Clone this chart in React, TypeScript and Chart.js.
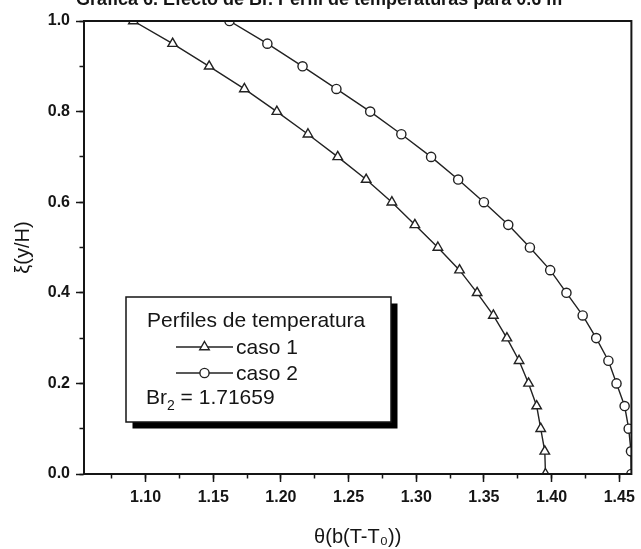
import React, { useEffect, useRef } from 'react';
import { Chart, registerables } from 'chart.js';
import * as helpers from 'chart.js/helpers';

Chart.register(...registerables);

// ---- data ----
const xiValues = [1.0, 0.95, 0.9, 0.85, 0.8, 0.75, 0.7, 0.65, 0.6, 0.55, 0.5, 0.45, 0.4, 0.35, 0.3, 0.25, 0.2, 0.15, 0.1, 0.05, 0.0];
const caso1Theta = [1.091, 1.120, 1.147, 1.173, 1.197, 1.220, 1.242, 1.263, 1.282, 1.299, 1.316, 1.332, 1.345, 1.357, 1.367, 1.376, 1.383, 1.389, 1.392, 1.395, 1.3955];
const caso2Theta = [1.162, 1.190, 1.216, 1.241, 1.266, 1.289, 1.311, 1.331, 1.350, 1.368, 1.384, 1.399, 1.411, 1.423, 1.433, 1.442, 1.448, 1.454, 1.457, 1.4587, 1.459];
const seriesLabels = ['caso 1', 'caso 2'];
const seriesMarkers = ['triangle', 'circle'];
const legendTitle = 'Perfiles de temperatura';
const brParts = ['Br', '2', ' = 1.71659'];
const xTitle = 'θ(b(T-T₀))';
const yTitle = 'ξ(y/H)';
const chartTitle = 'Gráfica 6. Efecto de Br. Perfil de temperaturas para 0.6 m';
const xMin = 1.0545;
const xMax = 1.459;
const yMin = 0;
const yMax = 1.0;
const xMajorStep = 0.05;
const xMinorStep = 0.025;
const yMajorStep = 0.2;
const yMinorStep = 0.1;

const FONT = "'Liberation Sans', Arial, sans-serif";
const INK = '#151515';

const framePlugin = {
  id: 'frame',
  afterDatasetsDraw(chart: any) {
    const { ctx, chartArea: a } = chart;
    ctx.save();
    ctx.strokeStyle = INK;
    ctx.lineWidth = 2;
    ctx.strokeRect(a.left, a.top, a.right - a.left, a.bottom - a.top);
    ctx.restore();
  },
};

const cutTitlePlugin = {
  id: 'cutTitle',
  afterDraw(chart: any) {
    const { ctx } = chart;
    ctx.save();
    ctx.fillStyle = INK;
    ctx.font = `bold 18px ${FONT}`;
    ctx.textAlign = 'left';
    ctx.textBaseline = 'alphabetic';
    ctx.fillText(chartTitle, 76, 5);
    ctx.restore();
  },
};

const boxLegendPlugin = {
  id: 'boxLegend',
  afterDraw(chart: any) {
    const { ctx } = chart;
    const bx = 126, by = 297, bw = 265, bh = 125, sh = 6.5;
    ctx.save();
    ctx.fillStyle = '#000';
    ctx.fillRect(bx + sh, by + sh, bw, bh);
    ctx.fillStyle = '#fff';
    ctx.fillRect(bx, by, bw, bh);
    ctx.strokeStyle = INK;
    ctx.lineWidth = 1.5;
    ctx.strokeRect(bx, by, bw, bh);

    ctx.fillStyle = INK;
    ctx.font = `21px ${FONT}`;
    ctx.textBaseline = 'middle';
    ctx.textAlign = 'left';
    ctx.fillText(legendTitle, 147, 321);

    chart.data.datasets.forEach((ds: any, i: number) => {
      const y = 347 + i * 26;
      ctx.strokeStyle = ds.borderColor;
      ctx.lineWidth = ds.borderWidth;
      ctx.beginPath();
      ctx.moveTo(176, y);
      ctx.lineTo(233, y);
      ctx.stroke();
      ctx.fillStyle = '#fff';
      ctx.strokeStyle = ds.pointBorderColor;
      ctx.lineWidth = ds.pointBorderWidth;
      helpers.drawPoint(ctx, { pointStyle: ds.pointStyle, radius: ds.pointRadius, borderWidth: ds.pointBorderWidth, rotation: 0 }, 204.5, y);
      ctx.fillStyle = INK;
      ctx.fillText(ds.label, 236, y + 1);
    });

    const by2 = 398;
    ctx.fillStyle = INK;
    ctx.font = `21px ${FONT}`;
    ctx.fillText(brParts[0], 146, by2);
    const w0 = ctx.measureText(brParts[0]).width;
    ctx.font = `14px ${FONT}`;
    ctx.fillText(brParts[1], 146 + w0, by2 + 8);
    const w1 = ctx.measureText(brParts[1]).width;
    ctx.font = `21px ${FONT}`;
    ctx.fillText(brParts[2], 146 + w0 + w1, by2);
    ctx.restore();
  },
};

export default function App() {
  const canvasRef = useRef<HTMLCanvasElement | null>(null);

  useEffect(() => {
    const canvas = canvasRef.current;
    if (!canvas) return;
    const thetaSeries = [caso1Theta, caso2Theta];
    const datasets = seriesLabels.map((label, i) => ({
      label,
      data: thetaSeries[i].map((x, j) => ({ x, y: xiValues[j] })),
      borderColor: '#222',
      borderWidth: 1.4,
      pointStyle: seriesMarkers[i],
      pointRadius: i === 0 ? 5.5 : 4.6,
      pointBackgroundColor: '#fff',
      pointBorderColor: '#222',
      pointBorderWidth: 1.4,
      tension: 0,
      fill: false,
    }));

    const chart = new Chart(canvas, {
      type: 'line',
      data: { datasets },
      options: {
        animation: false,
        responsive: false,
        devicePixelRatio: 1,
        layout: { padding: { top: 21, right: 7, left: 0, bottom: 0 } },
        plugins: {
          legend: { display: false },
          tooltip: { enabled: false },
          title: { display: false },
        },
        scales: {
          x: {
            type: 'linear',
            position: 'bottom',
            min: xMin,
            max: xMax,
            weight: 1,
            border: { display: true, color: INK, width: 2 },
            grid: { drawOnChartArea: false, drawTicks: true, tickLength: 8, tickWidth: 1.5, tickColor: INK },
            ticks: {
              stepSize: xMajorStep,
              includeBounds: false,
              autoSkip: false,
              maxRotation: 0,
              color: INK,
              padding: 6,
              font: { family: FONT, size: 16, weight: 'bold' },
              callback: (v: any) => Number(v).toFixed(2),
            },
            title: { display: true, text: xTitle, color: INK, font: { family: FONT, size: 20 }, padding: { top: 0, bottom: 0 } },
            afterFit: (s: any) => { s.height = 75; },
          },
          xMinor: {
            type: 'linear',
            position: 'bottom',
            min: xMin,
            max: xMax,
            weight: 0,
            border: { display: false },
            grid: { drawOnChartArea: false, drawTicks: true, tickLength: 4.5, tickWidth: 1.5, tickColor: INK },
            ticks: { stepSize: xMinorStep, includeBounds: false, autoSkip: false, display: false },
            afterFit: (s: any) => { s.height = 0; },
          },
          y: {
            type: 'linear',
            position: 'left',
            min: yMin,
            max: yMax,
            weight: 1,
            border: { display: true, color: INK, width: 2 },
            grid: { drawOnChartArea: false, drawTicks: true, tickLength: 8, tickWidth: 1.5, tickColor: INK },
            ticks: {
              stepSize: yMajorStep,
              includeBounds: false,
              autoSkip: false,
              color: INK,
              padding: 6,
              font: { family: FONT, size: 16, weight: 'bold' },
              callback: (v: any) => Number(v).toFixed(1),
            },
            title: { display: true, text: yTitle, color: INK, font: { family: FONT, size: 20 }, padding: { top: 11, bottom: 0 } },
            afterFit: (s: any) => { s.width = 84; },
          },
          yMinor: {
            type: 'linear',
            position: 'left',
            min: yMin,
            max: yMax,
            weight: 0,
            border: { display: false },
            grid: { drawOnChartArea: false, drawTicks: true, tickLength: 4.5, tickWidth: 1.5, tickColor: INK },
            ticks: { stepSize: yMinorStep, includeBounds: false, autoSkip: false, display: false },
            afterFit: (s: any) => { s.width = 0; },
          },
        },
      } as any,
      plugins: [framePlugin, boxLegendPlugin, cutTitlePlugin],
    });
    return () => chart.destroy();
  }, []);

  return (
    <div style={{ position: 'absolute', left: 0, top: 0, width: 641, height: 549, background: '#fff' }}>
      <canvas ref={canvasRef} width={641} height={549} style={{ display: 'block', width: 641, height: 549 }} />
    </div>
  );
}
